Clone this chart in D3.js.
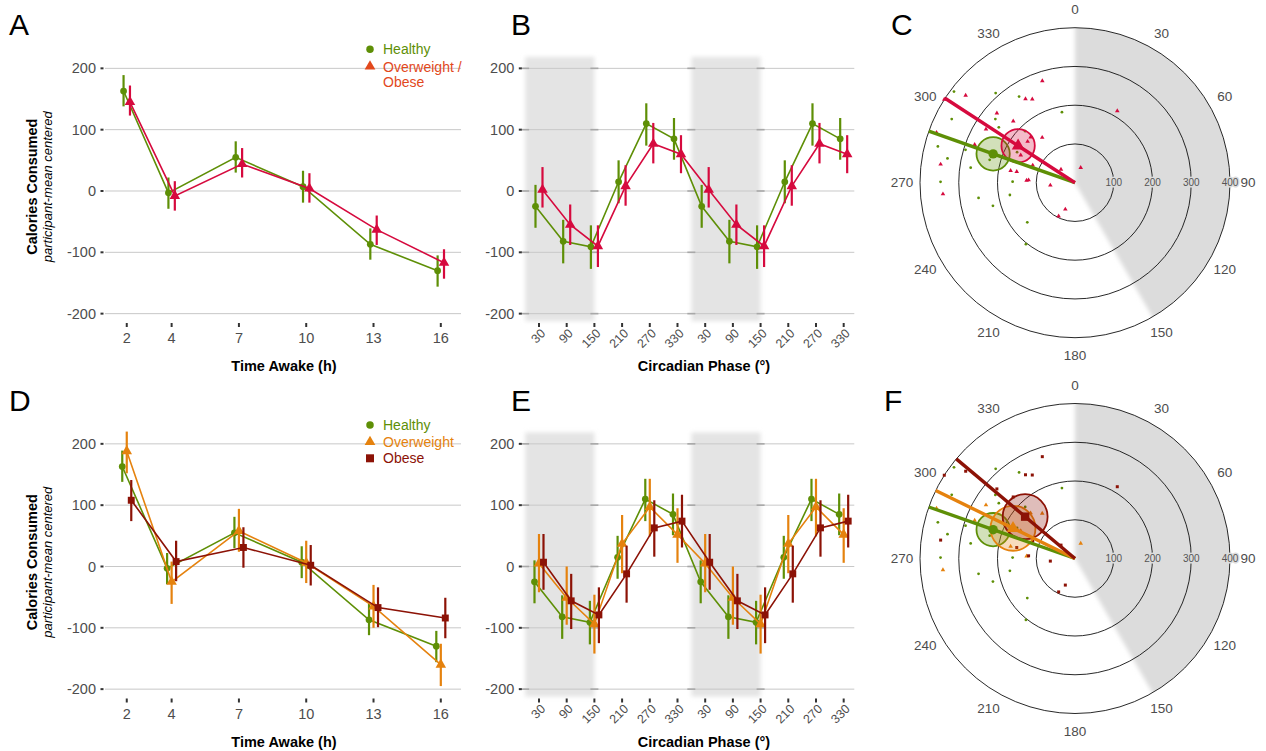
<!DOCTYPE html>
<html><head><meta charset="utf-8">
<script src="https://cdn.jsdelivr.net/npm/d3@7"></script>
<style>
body{margin:0;background:#fff;}
text{font-family:"Liberation Sans",Arial,Helvetica,sans-serif;}
</style>
</head><body><svg id="chart" width="1266" height="751"></svg>
<script>
// ---------------- DATA ----------------
const yTickVals = [-200, -100, 0, 100, 200];
const awakeHours = [2, 4, 7, 10, 13, 16];
const phaseBins = [30, 90, 150, 210, 270, 330];
const phaseCycles = [0, 360];
const shadedPhase = [0, 150];
const polarAngleTicks = [0, 30, 60, 90, 120, 150, 180, 210, 240, 270, 300, 330];
const polarRingTicks = [100, 200, 300, 400];

// Time awake (A, D)
const awakeHealthy   = [163, -3, 55, 7, -87, -130];
const awakeHealthyLo = [138, -29, 30, -19, -112, -156];
const awakeHealthyHi = [189, 22, 81, 33, -61, -105];
const awakeOwOb   = [145, -8, 44, 4, -63, -117];
const awakeOwObLo = [123, -32, 22, -19, -88, -143];
const awakeOwObHi = [172, 16, 70, 29, -40, -95];
const awakeOver   = [188, -25, 58, 6, -65, -160];
const awakeOverLo = [152, -61, 24, -27, -100, -195];
const awakeOverHi = [220, 8, 94, 42, -30, -126];
const awakeObese   = [108, 8, 31, 2, -67, -84];
const awakeObeseLo = [74, -24, -2, -31, -99, -117];
const awakeObeseHi = [141, 42, 64, 35, -34, -51];

// Circadian phase (B, E)
const phaseHealthy   = [-25, -82, -91, 15, 110, 85];
const phaseHealthyLo = [-60, -118, -127, -20, 74, 51];
const phaseHealthyHi = [10, -47, -56, 50, 143, 119];
const phaseOwOb   = [2, -55, -90, 8, 77, 60];
const phaseOwObLo = [-27, -88, -124, -24, 45, 29];
const phaseOwObHi = [39, -22, -56, 42, 111, 91];
const phaseOver   = [5, -51, -94, 37, 97, 52];
const phaseOverLo = [-42, -95, -142, -11, 49, 6];
const phaseOverHi = [53, 0, -46, 84, 143, 95];
const phaseObese   = [7, -56, -79, -12, 63, 74];
const phaseObeseLo = [-38, -102, -125, -59, 16, 31];
const phaseObeseHi = [53, -12, -34, 34, 108, 117];

// Individual acrophase [phase deg, amplitude kcal] (C, F)
const indivHealthy = [[307,391],[318.5,309],[327,265],[349.5,185],[297.3,358],[308.6,263],[306,243],[316,185],
  [284.8,366],[286.7,295],[280.8,335],[278.2,272],[270.4,347],[270.9,161],[261,252],[259.3,171],[254.3,220],
  [230.3,160],[218.6,203],[285,228],[297.8,169]];
const indivOverweight = [[301,268],[289.9,380],[324,144],[315.7,164],[290.8,277],[296.9,157],[280.6,169],
  [272.8,125],[20.8,41.5],[265.1,342],[311,162]];
const indivObese = [[342.2,276],[308.6,361],[329.4,251],[332.9,242],[302.5,400],[30.5,215],[311.7,270],
  [314.9,225],[292.4,118],[280.7,153],[273.3,120],[313.7,50],[264,64],[277.8,350],[200,73],[206.1,96]];

// Group mean vectors
const meanGroups = ["Healthy", "Overweight / Obese", "Overweight", "Obese"];
const meanPhase = [289.4, 303, 296, 310];
const meanAmp   = [224, 175, 178, 168];
const meanCI    = [43, 43, 58, 58];

// ---------------- STYLE ----------------
const GREEN = "#5e8f06", CRIMSON = "#d60a3e", ORANGE = "#e5820e", DARKRED = "#8c1206";
const LEG_OWOB = "#e2481c";
const TXT = "#4d4d4d", GRID = "#c8c8c8", TICK = "#333";

const svg = d3.select("#chart");
const defs = svg.append("defs");
defs.append("filter").attr("id","blurBand").attr("x","-20%").attr("width","140%")
  .append("feGaussianBlur").attr("stdDeviation", 2);
defs.append("filter").attr("id","blurWedge").attr("x","-20%").attr("y","-20%").attr("width","140%").attr("height","140%")
  .append("feGaussianBlur").attr("stdDeviation", 2);

const rowOff = [0, 375.5];
const sym = {circle: d3.symbolCircle, triangle: d3.symbolTriangle, square: d3.symbolSquare};
const symSize = {circle: 36, triangle: 48, square: 48};

function panelLetter(t, x, y) {
  svg.append("text").attr("x", x).attr("y", y).attr("font-size", 30).attr("fill", "#000").text(t);
}

function yAxisTitle(off) {
  svg.append("text").attr("transform", `translate(37,${186.7+off}) rotate(-90)`)
    .attr("text-anchor","middle").attr("font-size",14.5).attr("font-weight","bold").attr("fill","#000")
    .text("Calories Consumed");
  svg.append("text").attr("transform", `translate(51.5,${186.7+off}) rotate(-90)`)
    .attr("text-anchor","middle").attr("font-size",13).attr("font-style","italic").attr("fill","#000")
    .text("participant-mean centered");
}

function linePanel(opt) {
  const off = opt.off;
  const g = svg.append("g");
  const x = opt.x;
  const y = d3.scaleLinear().domain([-212, 218.5]).range([321 + off, 57 + off]);
  const [xr0, xr1] = x.range();
  // shaded bands
  if (opt.bands) {
    opt.bands.forEach(b => {
      g.append("rect").attr("x", x(b[0])).attr("y", 57 + off).attr("width", x(b[1]) - x(b[0]))
        .attr("height", 264).attr("fill", "#e4e4e4").attr("filter", "url(#blurBand)");
    });
  }
  // grid
  g.selectAll(null).data(yTickVals).join("line")
    .attr("x1", xr0).attr("x2", xr1).attr("y1", d => y(d)).attr("y2", d => y(d))
    .attr("stroke", GRID).attr("stroke-width", 1);
  if (opt.bands) {
    opt.bands.forEach(b => b.forEach(e => {
      g.selectAll(null).data(yTickVals).join("line")
        .attr("x1", x(e) - 4).attr("x2", x(e) + 4).attr("y1", d => y(d)).attr("y2", d => y(d))
        .attr("stroke", "#a8a8a8").attr("stroke-width", 1.6);
    }));
  }
  // y axis
  g.selectAll(null).data(yTickVals).join("line")
    .attr("x1", xr0 - 4.5).attr("x2", xr0 - 1.5).attr("y1", d => y(d)).attr("y2", d => y(d))
    .attr("stroke", TICK).attr("stroke-width", 2);
  g.selectAll(null).data(yTickVals).join("text")
    .attr("x", xr0 - 9).attr("y", d => y(d)).attr("dy", "0.35em").attr("text-anchor", "end")
    .attr("font-size", 14.5).attr("fill", TXT).text(d => d);
  // x axis
  g.selectAll(null).data(opt.ticks).join("line")
    .attr("x1", d => x(d)).attr("x2", d => x(d)).attr("y1", 323 + off).attr("y2", 327 + off)
    .attr("stroke", TICK).attr("stroke-width", 2);
  if (opt.rotate) {
    g.selectAll(null).data(opt.ticks).join("text")
      .attr("transform", d => `translate(${x(d) + 4},${331 + off}) rotate(-45)`)
      .attr("text-anchor", "end").attr("dy", "0.35em").attr("font-size", 12.5).attr("fill", TXT)
      .text((d, i) => opt.tickLabels[i]);
  } else {
    g.selectAll(null).data(opt.ticks).join("text")
      .attr("x", d => x(d)).attr("y", 343 + off).attr("text-anchor", "middle")
      .attr("font-size", 14.5).attr("fill", TXT).text((d, i) => opt.tickLabels[i]);
  }
  g.append("text").attr("x", opt.titleX).attr("y", 371 + off).attr("text-anchor", "middle")
    .attr("font-size", 14.5).attr("font-weight", "bold").attr("fill", "#000").text(opt.title);
  // series
  opt.series.forEach(s => {
    const pts = opt.xs.map((xv, i) => ({
      px: x(xv) + s.dodge, v: s.val[i % 6], lo: s.lo[i % 6], hi: s.hi[i % 6]
    }));
    const sg = g.append("g");
    sg.append("path").datum(pts)
      .attr("d", d3.line().x(d => d.px).y(d => y(d.v)))
      .attr("fill", "none").attr("stroke", s.color).attr("stroke-width", 1.6);
    sg.selectAll(null).data(pts).join("line")
      .attr("x1", d => d.px).attr("x2", d => d.px).attr("y1", d => y(d.lo)).attr("y2", d => y(d.hi))
      .attr("stroke", s.color).attr("stroke-width", 2.2);
    sg.selectAll(null).data(pts).join("path")
      .attr("transform", d => `translate(${d.px},${y(d.v)})`)
      .attr("d", d3.symbol(sym[s.shape], symSize[s.shape])).attr("fill", s.color);
  });
}

function legend(x, items) {
  items.forEach(it => {
    svg.append("path").attr("transform", `translate(${x},${it.my})`)
      .attr("d", d3.symbol(sym[it.shape], it.size)).attr("fill", it.color);
    it.lines.forEach((ln, j) => {
      svg.append("text").attr("x", x + 13).attr("y", it.ty[j]).attr("font-size", 14)
        .attr("fill", it.color).text(ln);
    });
  });
}

function polarPanel(cx, cy, groups, means) {
  const g = svg.append("g").attr("transform", `translate(${cx},${cy})`);
  const r = d3.scaleLinear().domain([0, 400]).range([0, 155]);
  const rad = d => d * Math.PI / 180;
  const clipId = "clip" + Math.round(cy);
  defs.append("clipPath").attr("id", clipId).append("circle").attr("r", r(400));
  g.append("g").attr("clip-path", `url(#${clipId})`)
    .append("path")
    .attr("d", d3.arc()({innerRadius: 0, outerRadius: r(400) + 6, startAngle: rad(shadedPhase[0]), endAngle: rad(shadedPhase[1])}))
    .attr("fill", "#dcdcdc").attr("filter", "url(#blurWedge)");
  g.selectAll(null).data(polarRingTicks).join("circle")
    .attr("r", d => r(d)).attr("fill", "none").attr("stroke", "#111").attr("stroke-width", 0.9);
  g.selectAll(null).data(polarRingTicks).join("text")
    .attr("x", d => r(d)).attr("y", 0).attr("dy", "0.35em").attr("text-anchor", "middle")
    .attr("font-size", 10).attr("fill", "#555")
    .attr("stroke", "#dcdcdc").attr("stroke-width", 3).attr("paint-order", "stroke")
    .text(d => d);
  g.selectAll(null).data(polarAngleTicks).join("text")
    .attr("x", d => d3.pointRadial(rad(d), 173)[0]).attr("y", d => d3.pointRadial(rad(d), 173)[1])
    .attr("dy", "0.35em").attr("text-anchor", "middle").attr("font-size", 13.5).attr("fill", TXT)
    .text(d => d);
  // individual points
  groups.forEach(gr => {
    g.selectAll(null).data(gr.data).join("path")
      .attr("transform", d => { const p = d3.pointRadial(rad(d[0]), r(d[1])); return `translate(${p[0]},${p[1]})`; })
      .attr("d", d3.symbol(sym[gr.shape], gr.shape === "circle" ? 6 : 9)).attr("fill", gr.color);
  });
  // confidence circles
  means.forEach(m => {
    const p = d3.pointRadial(rad(meanPhase[m.i]), r(meanAmp[m.i]));
    g.append("circle").attr("cx", p[0]).attr("cy", p[1]).attr("r", r(meanCI[m.i]))
      .attr("fill", m.color).attr("fill-opacity", 0.28).attr("stroke", m.color).attr("stroke-width", 1.8);
  });
  // mean vectors
  means.forEach(m => {
    const p = d3.pointRadial(rad(meanPhase[m.i]), r(400));
    g.append("line").attr("x1", 0).attr("y1", 0).attr("x2", p[0]).attr("y2", p[1])
      .attr("stroke", m.color).attr("stroke-width", 3.4);
  });
  means.forEach(m => {
    const p = d3.pointRadial(rad(meanPhase[m.i]), r(meanAmp[m.i]));
    g.append("path").attr("transform", `translate(${p[0]},${p[1]})`)
      .attr("d", d3.symbol(sym[m.shape], 70)).attr("fill", m.color);
  });
}

// ---------------- BUILD ----------------
const xAwake = d3.scaleLinear().domain([1.03, 16.9]).range([105, 461]);
const xPhase = d3.scaleLinear().domain([-4, 713]).range([523.3, 854.3]);
const phaseXs = phaseCycles.flatMap(c => phaseBins.map(p => p + c));
const phaseLabels = phaseCycles.flatMap(() => phaseBins.map(p => String(p)));
const bands = phaseCycles.map(c => [shadedPhase[0] + c, shadedPhase[1] + c]);

// Row 1
panelLetter("A", 9, 35); panelLetter("B", 511, 35); panelLetter("C", 891, 35);
yAxisTitle(0);
linePanel({off: 0, x: xAwake, xs: awakeHours, ticks: awakeHours, tickLabels: awakeHours.map(String),
  title: "Time Awake (h)", titleX: 284,
  series: [
    {val: awakeHealthy, lo: awakeHealthyLo, hi: awakeHealthyHi, color: GREEN, shape: "circle", dodge: -3.2},
    {val: awakeOwOb, lo: awakeOwObLo, hi: awakeOwObHi, color: CRIMSON, shape: "triangle", dodge: 3.2}
  ]});
linePanel({off: 0, x: xPhase, xs: phaseXs, ticks: phaseXs, tickLabels: phaseLabels, rotate: true, bands,
  title: "Circadian Phase (°)", titleX: 704,
  series: [
    {val: phaseHealthy, lo: phaseHealthyLo, hi: phaseHealthyHi, color: GREEN, shape: "circle", dodge: -3.5},
    {val: phaseOwOb, lo: phaseOwObLo, hi: phaseOwObHi, color: CRIMSON, shape: "triangle", dodge: 3.5}
  ]});
legend(370, [
  {shape: "circle", size: 44, color: GREEN, my: 49.3, lines: ["Healthy"], ty: [54]},
  {shape: "triangle", size: 50, color: LEG_OWOB, my: 66.5, lines: ["Overweight /", "Obese"], ty: [71.5, 87]}
]);
polarPanel(1075, 182.7,
  [{data: indivHealthy, color: GREEN, shape: "circle"},
   {data: indivOverweight.concat(indivObese), color: CRIMSON, shape: "triangle"}],
  [{i: 0, color: GREEN, shape: "circle"}, {i: 1, color: CRIMSON, shape: "triangle"}]);

// Row 2
const o2 = rowOff[1];
panelLetter("D", 9, 35 + o2); panelLetter("E", 511, 35 + o2); panelLetter("F", 884, 35 + o2);
yAxisTitle(o2);
linePanel({off: o2, x: xAwake, xs: awakeHours, ticks: awakeHours, tickLabels: awakeHours.map(String),
  title: "Time Awake (h)", titleX: 284,
  series: [
    {val: awakeHealthy, lo: awakeHealthyLo, hi: awakeHealthyHi, color: GREEN, shape: "circle", dodge: -4.5},
    {val: awakeOver, lo: awakeOverLo, hi: awakeOverHi, color: ORANGE, shape: "triangle", dodge: 0},
    {val: awakeObese, lo: awakeObeseLo, hi: awakeObeseHi, color: DARKRED, shape: "square", dodge: 4.5}
  ]});
linePanel({off: o2, x: xPhase, xs: phaseXs, ticks: phaseXs, tickLabels: phaseLabels, rotate: true, bands,
  title: "Circadian Phase (°)", titleX: 704,
  series: [
    {val: phaseHealthy, lo: phaseHealthyLo, hi: phaseHealthyHi, color: GREEN, shape: "circle", dodge: -4.5},
    {val: phaseOver, lo: phaseOverLo, hi: phaseOverHi, color: ORANGE, shape: "triangle", dodge: 0},
    {val: phaseObese, lo: phaseObeseLo, hi: phaseObeseHi, color: DARKRED, shape: "square", dodge: 4.5}
  ]});
legend(370, [
  {shape: "circle", size: 44, color: GREEN, my: 425 + 0, lines: ["Healthy"], ty: [430]},
  {shape: "triangle", size: 50, color: ORANGE, my: 442, lines: ["Overweight"], ty: [446.5]},
  {shape: "square", size: 64, color: DARKRED, my: 458.3, lines: ["Obese"], ty: [463]}
]);
polarPanel(1075, 558.5,
  [{data: indivHealthy, color: GREEN, shape: "circle"},
   {data: indivOverweight, color: ORANGE, shape: "triangle"},
   {data: indivObese, color: DARKRED, shape: "square"}],
  [{i: 0, color: GREEN, shape: "circle"}, {i: 2, color: ORANGE, shape: "triangle"}, {i: 3, color: DARKRED, shape: "square"}]);
</script>
</body></html>
